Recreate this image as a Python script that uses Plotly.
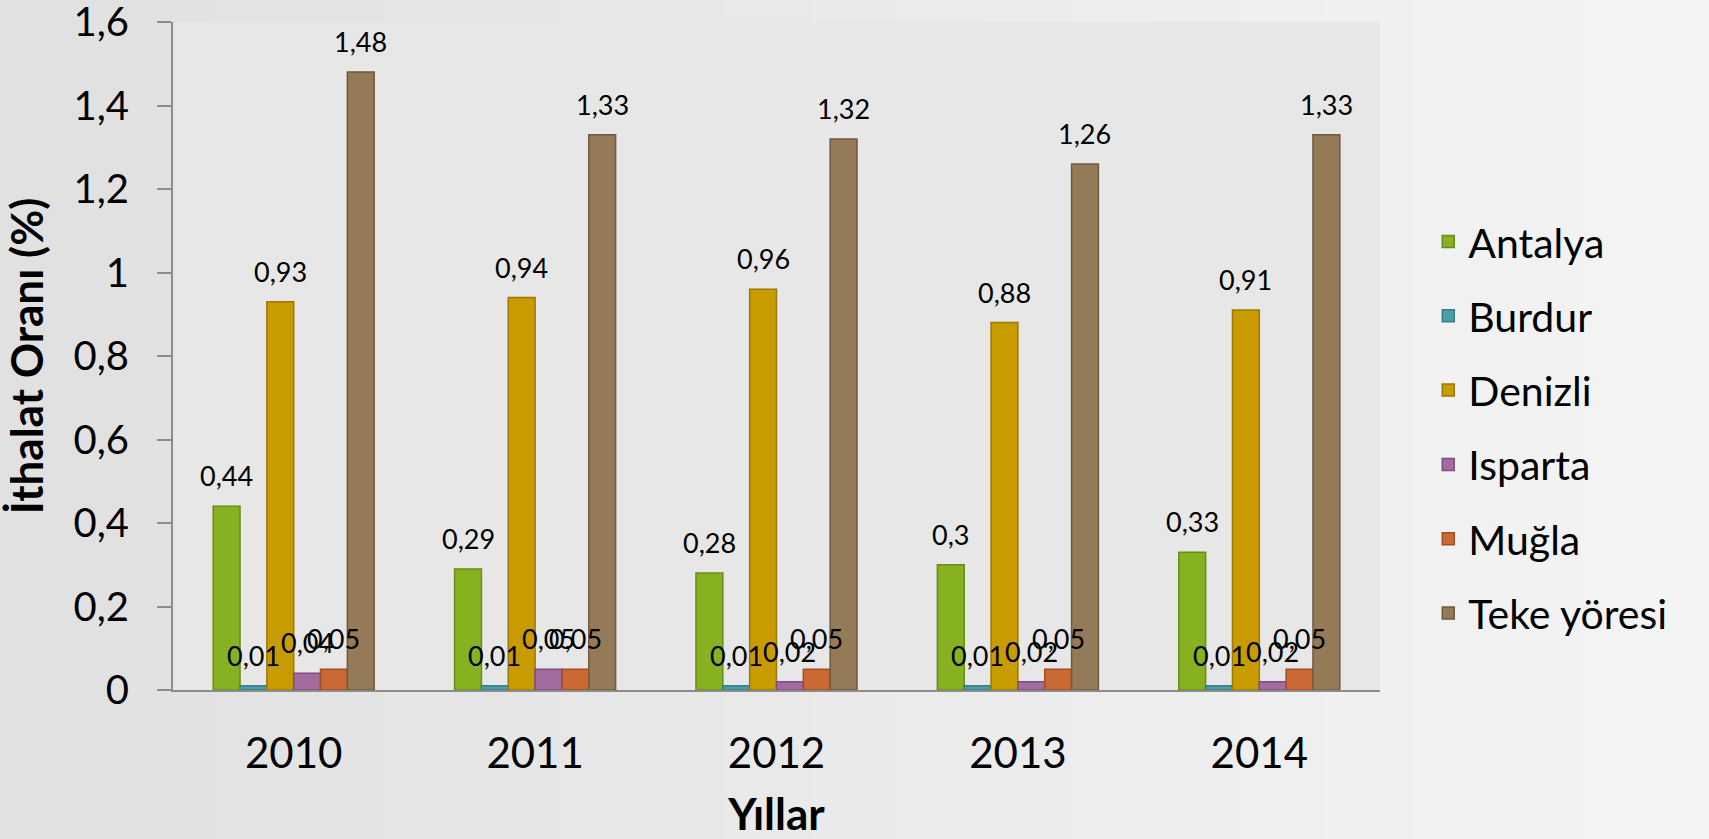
import plotly.graph_objects as go

years = ["2010", "2011", "2012", "2013", "2014"]
series_names = ["Antalya", "Burdur", "Denizli", "Isparta", "Muğla", "Teke yöresi"]
antalya = [0.44, 0.29, 0.28, 0.30, 0.33]
burdur = [0.01, 0.01, 0.01, 0.01, 0.01]
denizli = [0.93, 0.94, 0.96, 0.88, 0.91]
isparta = [0.04, 0.05, 0.02, 0.02, 0.02]
mugla = [0.05, 0.05, 0.05, 0.05, 0.05]
teke = [1.48, 1.33, 1.32, 1.26, 1.33]
series_values = [antalya, burdur, denizli, isparta, mugla, teke]
y_ticks = [0, 0.2, 0.4, 0.6, 0.8, 1.0, 1.2, 1.4, 1.6]

fills = ["#86B121", "#4B9FA8", "#C89B00", "#A26CA0", "#CB6934", "#957A57"]
borders = ["#6A8C18", "#357E87", "#9C7800", "#7E4F7D", "#A04F24", "#6F5A3D"]

W, H = 1709, 839
L, R, T, B = 173, 329, 22, 149
plot_w = W - L - R
ph = H - T - B
bargap = 0.333
bar_px = plot_w / len(years) * (1 - bargap) / len(series_names)

def fmt(v):
    return ("%g" % v).replace(".", ",")

fig = go.Figure()
for i, (name, vals) in enumerate(zip(series_names, series_values)):
    fig.add_trace(go.Bar(
        x=years, y=vals, name=name, legendgroup=name,
        marker=dict(color=fills[i], line=dict(color=borders[i], width=1.5)),
    ))

annotations = []
for i, vals in enumerate(series_values):
    for j, v in enumerate(vals):
        annotations.append(dict(
            x=j, y=v, xref="x", yref="y", text=fmt(v), showarrow=False,
            xanchor="center", yanchor="bottom",
            xshift=(i - 2.5) * bar_px, yshift=12,
            font=dict(family="Lato", size=27, color="#000000"),
        ))

# background gradient stripes (paper)
shapes = []
n = 40
for k in range(n):
    t = k / (n - 1)
    c = int(0xE1 + (0xF4 - 0xE1) * t)
    shapes.append(dict(type="rect", xref="paper", yref="paper",
                       x0=-L / plot_w + k * (W / plot_w) / n,
                       x1=-L / plot_w + (k + 1) * (W / plot_w) / n + 0.002,
                       y0=-B / ph, y1=1 + T / ph,
                       fillcolor="rgb(%d,%d,%d)" % (c, c, c), line=dict(width=0),
                       layer="below"))
shapes.append(dict(type="rect", xref="paper", yref="paper", x0=0, x1=1, y0=0, y1=1,
                   fillcolor="#E7E7E7", line=dict(width=0), layer="below"))

fig.update_layout(
    width=W, height=H,
    margin=dict(l=L, r=R, t=T, b=B, pad=0),
    paper_bgcolor="#EAEAEA",
    plot_bgcolor="rgba(0,0,0,0)",
    separators=", ",
    barmode="group", bargap=bargap, bargroupgap=0,
    font=dict(family="Lato", color="#000000"),
    shapes=shapes,
    annotations=annotations,
    showlegend=True,
    legend=dict(x=1.040, y=0.721, xanchor="left", yanchor="top",
                font=dict(family="Lato", size=41, color="#000000"),
                bgcolor="rgba(0,0,0,0)", tracegroupgap=18),
    xaxis=dict(
        type="category", range=[-0.5, len(years) - 0.5], automargin=False,
        showgrid=False, showline=True, linecolor="#8C8C8C", linewidth=2,
        ticks="outside", ticklen=26, tickcolor="rgba(0,0,0,0)",
        tickfont=dict(family="Lato", size=42, color="#000000"),
        title=dict(text="<b>Yıllar</b>", font=dict(family="Lato", size=44, color="#000000"), standoff=27),
    ),
    yaxis=dict(
        range=[0, 1.6], tickmode="array", tickvals=y_ticks, automargin=False,
        ticktext=[fmt(v) + "\u2002" for v in y_ticks],
        showgrid=False, showline=True, linecolor="#8C8C8C", linewidth=2,
        ticks="outside", ticklen=14, tickwidth=2, tickcolor="#8C8C8C",
        tickfont=dict(family="Lato", size=40, color="#000000"),
        ticklabeloverflow="allow", zeroline=False,
        title=dict(text="<b>İthalat Oranı (%)</b>", font=dict(family="Lato", size=44, color="#000000"), standoff=16),
    ),
)

fig.write_html("out.html", config={"displayModeBar": False},
               post_script="document.body.style.margin='0';")
